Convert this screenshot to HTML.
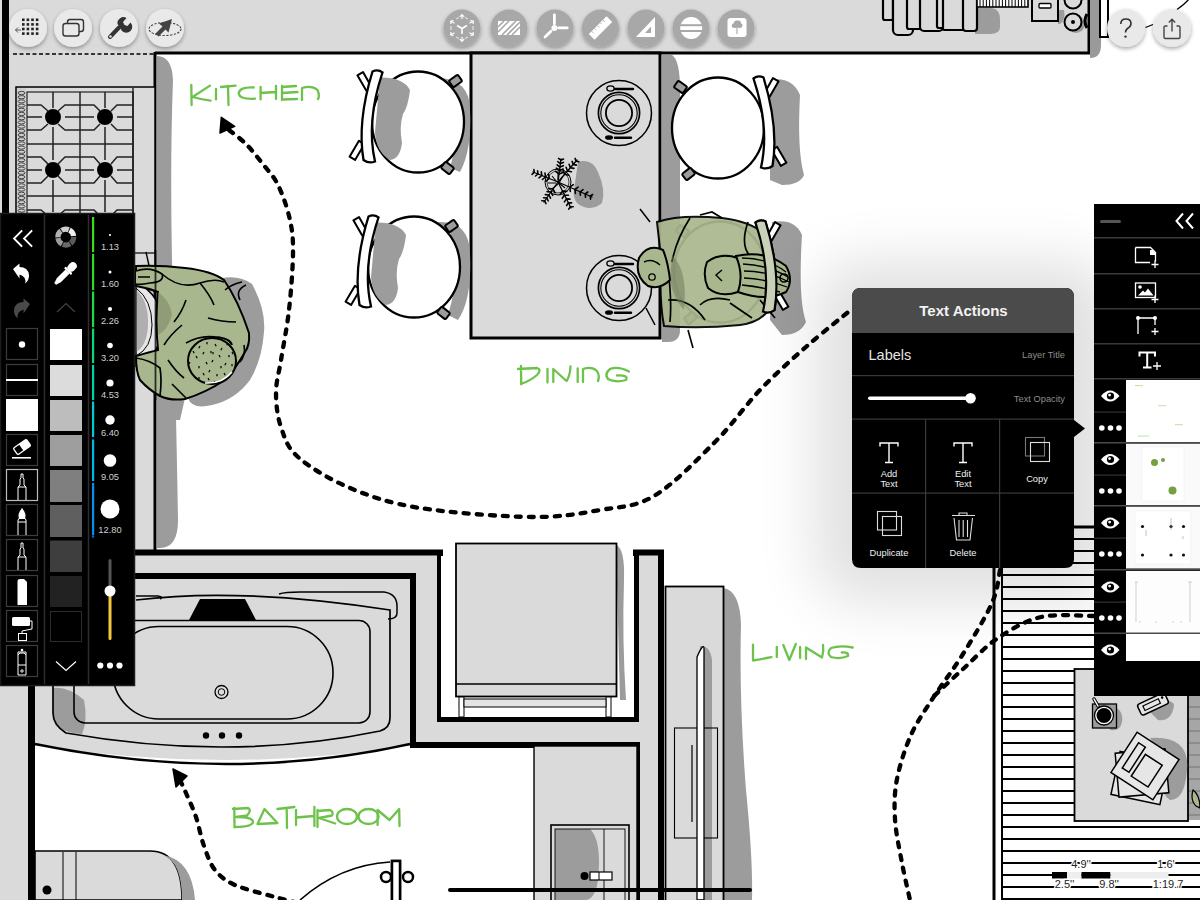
<!DOCTYPE html>
<html><head><meta charset="utf-8">
<style>
html,body{margin:0;padding:0;background:#fff;}
body{width:1200px;height:900px;overflow:hidden;position:relative;font-family:"Liberation Sans",sans-serif;}
svg{position:absolute;left:0;top:0;}
</style></head>
<body>
<svg width="1200" height="900" viewBox="0 0 1200 900" font-family="Liberation Sans, sans-serif">
<defs>
  <radialGradient id="popshadow" cx="0.5" cy="0.5" r="0.5">
    <stop offset="0" stop-color="#000" stop-opacity="0.22"/>
    <stop offset="0.6" stop-color="#000" stop-opacity="0.08"/>
    <stop offset="1" stop-color="#000" stop-opacity="0"/>
  </radialGradient>
  <filter id="btnsh" x="-30%" y="-30%" width="160%" height="170%">
    <feGaussianBlur in="SourceAlpha" stdDeviation="2"/>
    <feOffset dy="2"/>
    <feComponentTransfer><feFuncA type="linear" slope="0.35"/></feComponentTransfer>
    <feMerge><feMergeNode/><feMergeNode in="SourceGraphic"/></feMerge>
  </filter>
  <filter id="bigblur" x="-50%" y="-50%" width="200%" height="200%"><feGaussianBlur stdDeviation="30"/></filter>
  <g id="chair">
    <path d="M-60.6 -46.7 L-55 -49.9 L-46.2 -34.6 L-51.8 -31.4 Z" fill="#fff" stroke="#000" stroke-width="2" stroke-linejoin="round"/>
    <path d="M-68.45 34.67 L-62.95 37.93 L-53.55 22.03 L-59.05 18.77 Z" fill="#fff" stroke="#000" stroke-width="2" stroke-linejoin="round"/>
    <ellipse cx="0" cy="0" rx="46" ry="50.5" fill="#fff" stroke="#000" stroke-width="2.3"/>
    <g transform="translate(37.5 -41) rotate(-35)"><rect x="-5.5" y="-4" width="11" height="8" rx="1.5" fill="#9c9c9c" stroke="#000" stroke-width="2"/></g>
    <g transform="translate(29.5 46) rotate(38)"><rect x="-5.5" y="-4" width="11" height="8" rx="1.5" fill="#9c9c9c" stroke="#000" stroke-width="2"/></g>
  </g>
  <path id="backrest" d="M-45.5 -50.5 Q-61 0 -54.5 38 Q-49 42 -43 39.5 Q-52 0 -35.5 -49.5 Q-40 -53 -45.5 -50.5 Z" fill="#fff" stroke="#000" stroke-width="2.3"/>
  <g id="plate">
    <circle r="32.5" fill="none" stroke="#000" stroke-width="1.5"/>
    <circle r="20.6" fill="none" stroke="#000" stroke-width="1.7"/>
    <circle r="18.2" fill="none" stroke="#000" stroke-width="1.1"/>
    <circle r="13.1" fill="none" stroke="#000" stroke-width="1.8"/>
    <path d="M-4 -24 H14" stroke="#000" stroke-width="2.4" stroke-linecap="round"/>
    <ellipse cx="-8.5" cy="-24.5" rx="3.6" ry="2.6" fill="#dadada" stroke="#000" stroke-width="1.4"/>
    <path d="M-4 24.8 H12" stroke="#000" stroke-width="2.4" stroke-linecap="round"/>
    <ellipse cx="-10" cy="24.5" rx="4" ry="2.3" fill="#000"/>
  </g>
</defs>

<!-- ===== FLOOR PLAN BASE ===== -->
<rect x="0" y="0" width="1200" height="900" fill="#fff"/>
<!-- top gray band -->
<rect x="0" y="0" width="1090" height="53" fill="#dadada"/>
<!-- left kitchen counter gray -->
<rect x="0" y="53" width="155" height="500" fill="#dadada"/>
<rect x="2" y="0" width="7" height="215" fill="#000"/>
<!-- dashed counter edge -->
<line x1="13" y1="54" x2="155" y2="54" stroke="#000" stroke-width="1.6" stroke-dasharray="4,2.5"/>
<!-- wall top & kitchen wall -->
<line x1="155" y1="53" x2="1090" y2="53" stroke="#000" stroke-width="3"/>
<line x1="155" y1="52" x2="155" y2="553" stroke="#000" stroke-width="3"/>
<!-- right edge top band -->
<line x1="1089" y1="0" x2="1089" y2="54" stroke="#000" stroke-width="3"/>
<path d="M1090 0 H1101 V45 Q1101 58 1090 58 Z" fill="#9a9a9a"/>

<!-- shadow strip along kitchen wall -->
<path d="M157 56 Q172 56 173 80 Q170 160 172 260 Q176 400 178 520 Q178 548 160 548 L157 548 Z" fill="#9c9c9c"/>

<!-- stove -->
<rect x="16" y="87" width="139" height="180" fill="#dadada" stroke="#000" stroke-width="1.5"/>
<rect x="27" y="92" width="106" height="175" fill="#dadada" stroke="#222" stroke-width="1.2"/>
<line x1="133" y1="88" x2="133" y2="260" stroke="#000" stroke-width="1.2"/>
<line x1="133" y1="253" x2="155" y2="253" stroke="#000" stroke-width="1.2"/>
<g stroke="#222" stroke-width="1.5" fill="none">
  <line x1="27" y1="144" x2="133" y2="144"/>
  <line x1="27" y1="196" x2="133" y2="196"/>
  <line x1="80" y1="92" x2="80" y2="262"/>
  <path d="M53 92 V108 M53 127 V160 M53 180 V212 M105 92 V108 M105 127 V160 M105 180 V212"/>
  <path d="M27 117 H42 M65 117 H94 M117 117 H133 M27 170 H42 M65 170 H94 M117 170 H133"/>
  <path d="M27 105 H41 L48 111 M58 111 L65 105 H94 L100 111 M111 111 L117 105 H133"/>
  <path d="M27 130 H41 L48 124 M58 124 L65 130 H94 L100 124 M111 124 L117 130 H133"/>
  <path d="M27 157 H41 L48 164 M58 164 L65 157 H94 L100 164 M111 164 L117 157 H133"/>
  <path d="M27 183 H41 L48 176 M58 176 L65 183 H94 L100 176 M111 176 L117 183 H133"/>
  <path d="M27 210 H41 L48 216 M58 216 L65 210 H94 L100 216 M111 216 L117 210 H133"/>
</g>
<circle cx="53" cy="117" r="8" fill="#000"/>
<circle cx="105" cy="117" r="8" fill="#000"/>
<circle cx="53" cy="170" r="8" fill="#000"/>
<circle cx="105" cy="170" r="8" fill="#000"/>
<rect x="17" y="88" width="9" height="130" fill="#cfcfcf"/>
<g fill="none" stroke="#444" stroke-width="1">
  <ellipse cx="21.5" cy="93.0" rx="3.5" ry="1.6"/>
  <ellipse cx="21.5" cy="97.2" rx="3.5" ry="1.6"/>
  <ellipse cx="21.5" cy="101.4" rx="3.5" ry="1.6"/>
  <ellipse cx="21.5" cy="105.6" rx="3.5" ry="1.6"/>
  <ellipse cx="21.5" cy="109.8" rx="3.5" ry="1.6"/>
  <ellipse cx="21.5" cy="114.0" rx="3.5" ry="1.6"/>
  <ellipse cx="21.5" cy="118.2" rx="3.5" ry="1.6"/>
  <ellipse cx="21.5" cy="122.4" rx="3.5" ry="1.6"/>
  <ellipse cx="21.5" cy="126.6" rx="3.5" ry="1.6"/>
  <ellipse cx="21.5" cy="130.8" rx="3.5" ry="1.6"/>
  <ellipse cx="21.5" cy="135.0" rx="3.5" ry="1.6"/>
  <ellipse cx="21.5" cy="139.2" rx="3.5" ry="1.6"/>
  <ellipse cx="21.5" cy="143.4" rx="3.5" ry="1.6"/>
  <ellipse cx="21.5" cy="147.6" rx="3.5" ry="1.6"/>
  <ellipse cx="21.5" cy="151.8" rx="3.5" ry="1.6"/>
  <ellipse cx="21.5" cy="156.0" rx="3.5" ry="1.6"/>
  <ellipse cx="21.5" cy="160.2" rx="3.5" ry="1.6"/>
  <ellipse cx="21.5" cy="164.4" rx="3.5" ry="1.6"/>
  <ellipse cx="21.5" cy="168.6" rx="3.5" ry="1.6"/>
  <ellipse cx="21.5" cy="172.8" rx="3.5" ry="1.6"/>
  <ellipse cx="21.5" cy="177.0" rx="3.5" ry="1.6"/>
  <ellipse cx="21.5" cy="181.2" rx="3.5" ry="1.6"/>
  <ellipse cx="21.5" cy="185.4" rx="3.5" ry="1.6"/>
  <ellipse cx="21.5" cy="189.6" rx="3.5" ry="1.6"/>
  <ellipse cx="21.5" cy="193.8" rx="3.5" ry="1.6"/>
  <ellipse cx="21.5" cy="198.0" rx="3.5" ry="1.6"/>
  <ellipse cx="21.5" cy="202.2" rx="3.5" ry="1.6"/>
  <ellipse cx="21.5" cy="206.4" rx="3.5" ry="1.6"/>
  <ellipse cx="21.5" cy="210.6" rx="3.5" ry="1.6"/>
  <ellipse cx="21.5" cy="214.8" rx="3.5" ry="1.6"/>
</g>

<!-- ===== DINING TABLE ===== -->
<rect x="471" y="53" width="189" height="285" fill="#dadada" stroke="#000" stroke-width="3"/>
<path d="M662 55 H672 Q680 60 680 90 V330 Q680 342 668 342 H662 Z" fill="#9c9c9c"/>


<!-- ===== TOP RIGHT FURNITURE ===== -->
<path d="M975 8 H990 Q1000 8 1000 20 V27 Q1000 34 990 34 H975 Z" fill="#9c9c9c"/>
<g fill="#dadada" stroke="#000" stroke-width="2.2">
  <rect x="883" y="-5" width="10" height="25" rx="2"/>
  <rect x="893" y="-5" width="20" height="40" rx="5"/>
  <rect x="907" y="-5" width="17" height="34" rx="2"/>
  <rect x="920" y="-5" width="23" height="36" rx="4"/>
  <rect x="937" y="-5" width="9" height="33" rx="2"/>
  <rect x="943" y="-5" width="26" height="35" rx="1"/>
  <rect x="963" y="-5" width="14" height="36" rx="3"/>
</g>
<rect x="977" y="-2" width="51" height="9" fill="#fff" stroke="#000" stroke-width="1.6"/>
<g stroke="#000" stroke-width="1">
  <line x1="980.0" y1="0" x2="980.0" y2="7"/>
  <line x1="983.2" y1="0" x2="983.2" y2="7"/>
  <line x1="986.4" y1="0" x2="986.4" y2="7"/>
  <line x1="989.6" y1="0" x2="989.6" y2="7"/>
  <line x1="992.8" y1="0" x2="992.8" y2="7"/>
  <line x1="996.0" y1="0" x2="996.0" y2="7"/>
  <line x1="999.2" y1="0" x2="999.2" y2="7"/>
  <line x1="1002.4" y1="0" x2="1002.4" y2="7"/>
  <line x1="1005.6" y1="0" x2="1005.6" y2="7"/>
  <line x1="1008.8" y1="0" x2="1008.8" y2="7"/>
  <line x1="1012.0" y1="0" x2="1012.0" y2="7"/>
  <line x1="1015.2" y1="0" x2="1015.2" y2="7"/>
  <line x1="1018.4" y1="0" x2="1018.4" y2="7"/>
  <line x1="1021.6" y1="0" x2="1021.6" y2="7"/>
  <line x1="1024.8" y1="0" x2="1024.8" y2="7"/>
</g>
<path d="M1058 10 H1064 Q1066 20 1060 24 H1058 Z" fill="#9c9c9c"/>
<rect x="1032" y="-5" width="26" height="26" fill="#dadada" stroke="#000" stroke-width="2"/>
<rect x="1039" y="3.5" width="12" height="4.5" rx="1" fill="#fff" stroke="#000" stroke-width="1.3"/>
<circle cx="1076" cy="24" r="9" fill="#9c9c9c"/>
<circle cx="1073" cy="22" r="8.5" fill="#dadada" stroke="#000" stroke-width="2"/>
<circle cx="1073" cy="22" r="2" fill="#000"/>
<circle cx="1073" cy="0" r="8.5" fill="#dadada" stroke="#000" stroke-width="2"/>
<rect x="1100" y="-3" width="8" height="40" fill="#fff" stroke="#000" stroke-width="2"/>
<path d="M1087 14 Q1083 21 1087 28" stroke="#000" stroke-width="3" fill="none"/>
<path d="M1145.5 27.5 L1153 24.5 M1177 9.5 Q1185 4 1189 -1" stroke="#000" stroke-width="1.3" fill="none"/>

<!-- ===== CHAIRS ===== -->
<!-- shadows left chairs -->
<path d="M440 78 Q470 80 470 110 Q472 150 460 172 L450 168 Q462 125 452 88 Z" fill="#9c9c9c"/>
<path d="M437 222 Q470 220 470 255 Q472 300 458 320 L448 315 Q462 270 450 232 Z" fill="#9c9c9c"/>
<!-- shadows right chairs -->
<path d="M770 80 Q792 76 800 95 Q797 150 804 175 Q800 185 782 185 L770 180 Z" fill="#9c9c9c"/>
<path d="M772 222 Q795 218 802 235 Q798 300 806 322 Q800 335 782 335 L770 320 Z" fill="#9c9c9c"/>
<g transform="translate(418 122)">
  <use href="#chair"/>
  <path d="M-38 -44.5 Q-15 -45 -8 -32 Q-10 -15 -15 -8 Q-19 5 -16 21 Q-18 37 -28 38 Q-42 30 -43 10 Z" fill="#9c9c9c"/>
  <use href="#backrest"/>
</g>
<g transform="translate(414 267)">
  <use href="#chair"/>
  <path d="M-38 -44.5 Q-15 -45 -8 -32 Q-10 -15 -15 -8 Q-19 5 -16 21 Q-18 37 -28 38 Q-42 30 -43 10 Z" fill="#9c9c9c"/>
  <use href="#backrest"/>
</g>
<g transform="translate(718 128) scale(-1 1)">
  <use href="#chair"/>
  <use href="#backrest"/>
</g>
<g transform="translate(720 272) scale(-1 1)">
  <use href="#chair"/>
  <use href="#backrest"/>
</g>

<!-- ===== TABLE ITEMS ===== -->
<use href="#plate" transform="translate(619 113)"/>
<use href="#plate" transform="translate(619 288)"/>
<path d="M578 162 Q592 158 598 172 Q606 190 602 203 Q594 210 584 207 Q572 203 574 190 Z" fill="#9c9c9c"/>
<circle cx="558" cy="182" r="13" fill="none" stroke="#000" stroke-width="1"/>
<circle cx="558" cy="182" r="11" fill="none" stroke="#000" stroke-width="0.7"/>
<g stroke="#000" stroke-width="1.3" stroke-linecap="round" fill="none">
  <path d="M558.0 182.0 L533.0 172.0"/>
  <path d="M549.2 178.5 L548.7 174.2 M549.2 178.5 L545.9 181.2 M545.5 177.0 L545.0 173.1 M545.5 177.0 L542.4 179.5 M541.8 175.5 L541.3 171.9 M541.8 175.5 L539.0 177.8 M538.0 174.0 L537.6 170.8 M538.0 174.0 L535.5 176.0 M534.2 172.5 L533.9 169.6 M534.2 172.5 L532.0 174.3 " stroke-width="1.6"/>
  <path d="M558.0 182.0 L561.0 159.0"/>
  <path d="M559.0 173.9 L563.0 172.4 M559.0 173.9 L555.6 171.4 M559.5 170.5 L563.2 169.0 M559.5 170.5 L556.3 168.2 M560.0 167.1 L563.3 165.7 M560.0 167.1 L557.1 164.9 M560.4 163.6 L563.4 162.4 M560.4 163.6 L557.8 161.7 M560.9 160.2 L563.5 159.1 M560.9 160.2 L558.5 158.4 " stroke-width="1.6"/>
  <path d="M558.0 182.0 L577.0 160.0"/>
  <path d="M564.6 174.3 L568.8 175.2 M564.6 174.3 L563.2 170.3 M567.5 171.0 L571.4 171.8 M567.5 171.0 L566.1 167.3 M570.4 167.7 L573.9 168.4 M570.4 167.7 L569.1 164.3 M573.2 164.4 L576.4 165.1 M573.2 164.4 L572.1 161.4 M576.0 161.1 L578.9 161.7 M576.0 161.1 L575.1 158.4 " stroke-width="1.6"/>
  <path d="M558.0 182.0 L592.0 197.0"/>
  <path d="M569.9 187.2 L570.3 191.5 M569.9 187.2 L573.3 184.7 M575.0 189.5 L575.4 193.4 M575.0 189.5 L578.1 187.1 M580.1 191.8 L580.4 195.3 M580.1 191.8 L583.0 189.6 M585.2 194.0 L585.5 197.2 M585.2 194.0 L587.8 192.0 M590.3 196.2 L590.6 199.1 M590.3 196.2 L592.6 194.5 " stroke-width="1.6"/>
  <path d="M558.0 182.0 L571.0 208.0"/>
  <path d="M562.5 191.1 L560.1 194.6 M562.5 191.1 L566.8 191.3 M564.5 195.0 L562.3 198.3 M564.5 195.0 L568.4 195.2 M566.5 198.9 L564.4 201.9 M566.5 198.9 L570.0 199.1 M568.4 202.8 L566.6 205.5 M568.4 202.8 L571.6 202.9 M570.4 206.7 L568.7 209.1 M570.4 206.7 L573.2 206.8 " stroke-width="1.6"/>
  <path d="M558.0 182.0 L544.0 202.0"/>
  <path d="M553.1 189.0 L548.8 188.6 M553.1 189.0 L555.0 192.9 M551.0 192.0 L547.1 191.6 M551.0 192.0 L552.7 195.5 M548.9 195.0 L545.3 194.6 M548.9 195.0 L550.5 198.2 M546.8 198.0 L543.6 197.7 M546.8 198.0 L548.2 200.9 M544.7 201.0 L541.8 200.7 M544.7 201.0 L546.0 203.6 " stroke-width="1.6"/>
</g>
<g stroke="#000" stroke-width="1.1" fill="none"><path d="M552 176 l5 6 M563 176 l-4 7 M552 189 l6 -5 M565 188 l-6 -5 M558 172 v8 M548 183 h8"/></g>

<!-- ===== PEOPLE ===== -->
<!-- person 1 shadow -->
<path d="M222 278 Q240 275 252 284 Q266 310 264 332 Q262 360 250 380 Q235 400 212 405 Q192 410 188 398 Q230 375 236 330 Z" fill="#9c9c9c"/>
<path d="M157 395 L185 398 L180 420 L157 420 Z" fill="#9c9c9c"/>
<!-- pan left of person -->
<path d="M136 282 Q162 295 162 325 Q162 355 136 366 Z" fill="#e6e6e6" stroke="#000" stroke-width="1.5"/>
<path d="M136 288 Q152 300 152 325 Q152 348 136 356" fill="none" stroke="#000" stroke-width="1"/>
<path d="M136 290 Q148 300 148 322 Q148 345 136 352 Z" fill="#777" opacity="0.5"/>
<path d="M146 252 L150 270" stroke="#000" stroke-width="1.4"/>
<path d="M136 266 Q160 265 185 268 Q212 271 224 280 Q238 300 249 333 Q250 345 245 352 Q236 368 225 380 Q205 393 185 399 Q170 401 160 396 Q149 390 140 380 Q136 372 136 356 Q150 352 158 350 Q155 320 158 292 Q148 288 136 286 Z" fill="#a9b78e" stroke="#000" stroke-width="2"/>
<path d="M136 358 Q150 360 160 368 Q162 380 160 396" fill="none" stroke="#000" stroke-width="1.7"/>
<path d="M136 271 Q150 266 162 274 Q165 282 150 283 Q140 285 136 284" fill="#a9b78e" stroke="#000" stroke-width="1.6"/>
<path d="M138 277 H150 M162 274 Q180 290 200 283 Q215 278 224 282" fill="none" stroke="#000" stroke-width="1.5"/>
<path d="M158 292 Q170 300 172 315 Q168 330 158 335 Z" fill="#7e8a68" opacity="0.6"/>
<path d="M200 283 Q210 295 214 305 M174 322 Q182 312 186 300 M208 318 Q222 322 236 322 M164 345 Q170 335 182 325 M225 290 Q232 284 242 282 M240 300 Q235 290 246 285 M168 360 Q176 372 184 378 M172 384 Q180 392 186 398 M244 345 Q246 355 240 362" fill="none" stroke="#000" stroke-width="1.6"/>
<path d="M186 343 Q200 335 215 337 Q230 338 232 345" fill="none" stroke="#000" stroke-width="1.8"/>
<path d="M155.5 250 V400" stroke="#000" stroke-width="1.8" opacity="0.75"/>
<ellipse cx="212" cy="361" rx="24" ry="23" fill="#a9b78e" stroke="#000" stroke-width="2"/>
<g stroke="#000" stroke-width="1.2">
  <line x1="200.0" y1="346.0" x2="198.8" y2="348.2"/>
  <line x1="207.0" y1="342.0" x2="207.0" y2="344.2"/>
  <line x1="215.0" y1="344.0" x2="216.2" y2="346.2"/>
  <line x1="222.0" y1="348.0" x2="220.8" y2="350.2"/>
  <line x1="229.0" y1="355.0" x2="229.0" y2="357.2"/>
  <line x1="196.0" y1="356.0" x2="197.2" y2="358.2"/>
  <line x1="204.0" y1="352.0" x2="202.8" y2="354.2"/>
  <line x1="211.0" y1="351.0" x2="211.0" y2="353.2"/>
  <line x1="219.0" y1="355.0" x2="220.2" y2="357.2"/>
  <line x1="226.0" y1="363.0" x2="224.8" y2="365.2"/>
  <line x1="199.0" y1="366.0" x2="199.0" y2="368.2"/>
  <line x1="206.0" y1="362.0" x2="207.2" y2="364.2"/>
  <line x1="213.0" y1="360.0" x2="211.8" y2="362.2"/>
  <line x1="221.0" y1="366.0" x2="221.0" y2="368.2"/>
  <line x1="203.0" y1="373.0" x2="204.2" y2="375.2"/>
  <line x1="210.0" y1="370.0" x2="208.8" y2="372.2"/>
  <line x1="217.0" y1="374.0" x2="217.0" y2="376.2"/>
  <line x1="193.0" y1="351.0" x2="194.2" y2="353.2"/>
  <line x1="228.0" y1="343.0" x2="226.8" y2="345.2"/>
  <line x1="232.0" y1="364.0" x2="232.0" y2="366.2"/>
  <line x1="208.0" y1="378.0" x2="209.2" y2="380.2"/>
  <line x1="215.0" y1="381.0" x2="213.8" y2="383.2"/>
  <line x1="199.0" y1="377.0" x2="199.0" y2="379.2"/>
  <line x1="224.0" y1="373.0" x2="225.2" y2="375.2"/>
  <line x1="190.0" y1="362.0" x2="188.8" y2="364.2"/>
  <line x1="213.0" y1="352.0" x2="213.0" y2="354.2"/>
  <line x1="232.0" y1="352.0" x2="233.2" y2="354.2"/>
</g>
<path d="M205 383 Q222 384 232 372" fill="none" stroke="#fff" stroke-width="1.5"/>

<!-- person 2 -->
<g opacity="0.93">
<path d="M657 222 Q680 214 722 218 Q755 222 768 238 Q780 268 774 300 Q766 322 740 325 Q700 329 664 326 Q659 300 661 258 Z" fill="#a9b78e" stroke="#000" stroke-width="2"/>
</g>
<path d="M700 215 L712 212 L722 218 M690 218 Q676 240 672 262 M748 222 Q740 245 750 256 M668 300 Q690 298 705 320 M700 305 Q710 295 730 300 M730 303 L752 318 M760 300 L775 318 M668 270 Q672 300 670 322" fill="none" stroke="#000" stroke-width="1.7"/>
<path d="M672 255 Q688 270 684 310 Q674 300 670 280 Z" fill="#6f7a5c" opacity="0.55"/>
<path d="M663 250 Q648 243 639 258 Q634 276 648 286 Q660 290 670 280 Q668 262 663 250 Z" fill="#a9b78e" stroke="#000" stroke-width="2"/>
<path d="M644 262 Q652 258 660 265" fill="none" stroke="#000" stroke-width="1.4"/>
<circle cx="652" cy="277" r="3.2" fill="none" stroke="#000" stroke-width="1.3"/>
<path d="M707 262 Q720 252 738 258 Q746 275 738 292 Q720 298 708 288 Q702 275 707 262 Z" fill="#a9b78e" stroke="#000" stroke-width="2"/>
<path d="M722 270 L716 275 L722 281" fill="none" stroke="#000" stroke-width="1.4"/>
<path d="M736 256 Q766 250 786 266 Q794 280 786 292 Q766 302 738 292 Q744 275 736 256 Z" fill="#a9b78e" stroke="#000" stroke-width="2"/>
<g stroke="#000" stroke-width="1.3" fill="none">
  <path d="M742 258 Q768 258 786 272 M743 264 Q768 265 788 277 M744 271 Q768 271 789 282 M744 278 Q766 279 787 287 M742 285 Q762 287 780 292"/>
</g>
<g transform="translate(720 272) scale(-1 1)"><path d="M-45.5 -50.5 Q-61 0 -54.5 38 Q-49 42 -43 39.5 Q-52 0 -35.5 -49.5 Q-40 -53 -45.5 -50.5 Z" fill="#c9d2b9" stroke="#000" stroke-width="2.1"/></g>
<circle cx="784" cy="278" r="4" fill="none" stroke="#000" stroke-width="1.6"/>
<path d="M640 209 L650 222 M646 308 L655 325" stroke="#000" stroke-width="1.5"/>
<path d="M688 330 L693 348" stroke="#000" stroke-width="1.6"/>

<!-- ===== WALLS BOTTOM ===== -->
<rect x="135" y="553" width="305" height="23" fill="#dadada"/>
<rect x="35" y="576" width="403" height="170" fill="#dadada"/>
<rect x="413" y="576" width="25" height="170" fill="#dadada"/>
<rect x="438" y="719" width="223" height="27" fill="#dadada"/>
<rect x="636" y="553" width="25" height="347" fill="#dadada"/>
<rect x="0" y="686" width="28" height="214" fill="#dadada"/>


<!-- ===== BATHTUB ===== -->
<path d="M35 588 Q225 570 413 590 V745 Q225 775 35 745 Z" fill="#dadada"/>
<path d="M35 744 Q230 784 410 744" fill="none" stroke="#000" stroke-width="2.5"/>
<path d="M53 688 Q68 686 84 700 Q88 720 82 734 Q66 733 56 726 Q53 720 53 713 Z" fill="#9c9c9c"/>
<path d="M136 596 H158 Q164 597 160 599" fill="none" stroke="#000" stroke-width="1.4"/>
<path d="M279 594 Q285 592 300 592 H384 Q397 594 397 606 V613 Q397 619 388 619" fill="none" stroke="#000" stroke-width="1.5"/>
<path d="M136 600 Q240 587 390 610 V718 Q390 728 380 731 Q230 762 66 733 Q53 725 53 713 V640" fill="none" stroke="#000" stroke-width="1.7"/>
<rect x="74" y="620.5" width="296" height="102.5" rx="11" fill="none" stroke="#000" stroke-width="1.6"/>
<rect x="113" y="626.5" width="220" height="92.5" rx="46" fill="none" stroke="#000" stroke-width="1.6"/>
<path d="M189 620 L200 599 H245 L256 620 Z" fill="#000"/>
<circle cx="221.5" cy="692" r="6.5" fill="#ddd" stroke="#000" stroke-width="1.3"/>
<circle cx="221.5" cy="692" r="3.3" fill="none" stroke="#000" stroke-width="1"/>
<circle cx="206" cy="735.5" r="3.2" fill="#000"/>
<circle cx="222" cy="735.5" r="3.2" fill="#000"/>
<circle cx="239" cy="735.5" r="3.2" fill="#000"/>
<g stroke="#000" stroke-linecap="round" fill="none">
  <path d="M135 552.5 H440 V719 H636 V552.5 H661 V900" stroke-width="6"/>
  <path d="M135 576 H413 V745 H637 V900" stroke-width="6"/>
</g>
<rect x="28" y="686" width="7" height="214" fill="#000"/>
<!-- ===== WASHER U ===== -->
<rect x="441" y="556" width="193" height="161" fill="#fff"/>
<path d="M616 545 Q625 548 624 580 Q622 640 626 700 L620 700 Z" fill="#9c9c9c"/>
<rect x="456" y="543.5" width="160.5" height="153" fill="#dadada" stroke="#000" stroke-width="1.8"/>
<line x1="456" y1="684" x2="616.5" y2="684" stroke="#000" stroke-width="1.4"/>
<rect x="459" y="697" width="5" height="20" fill="#fff" stroke="#000" stroke-width="1"/>
<rect x="606" y="697" width="5" height="20" fill="#fff" stroke="#000" stroke-width="1"/>
<rect x="464" y="699" width="142" height="8" fill="#e4e4e4" stroke="#000" stroke-width="1"/>
<!-- fridge -->
<path d="M723 588 Q740 590 741 625 Q739 700 746 790 Q753 860 752 900 H723 Z" fill="#9c9c9c"/>
<rect x="665.5" y="586.5" width="58" height="330" fill="#dadada" stroke="#000" stroke-width="1.8"/>
<path d="M700 646 Q710 645 712 660 V900 H700 Z" fill="#9c9c9c"/>
<rect x="674.5" y="728" width="43" height="110" fill="none" stroke="#000" stroke-width="1.1"/>
<path d="M697 657 Q703 643 704 648 V900 H697 Z" fill="#fff" stroke="#000" stroke-width="1.3"/>
<rect x="674.5" y="728" width="22" height="110" fill="#dadada" fill-opacity="0" stroke="none"/>
<line x1="692" y1="745" x2="692" y2="822" stroke="#000" stroke-width="1.2"/>
<!-- lower cabinet -->
<rect x="534" y="746" width="103" height="160" fill="#dadada" stroke="#000" stroke-width="1.4"/>
<rect x="551" y="825" width="78" height="80" fill="#dadada" stroke="#000" stroke-width="1.6"/>
<path d="M555 829 H590 Q602 840 598 880 Q595 900 585 900 H555 Z" fill="#9c9c9c"/>
<rect x="555" y="829" width="70" height="75" fill="none" stroke="#000" stroke-width="0.9"/>
<line x1="604" y1="829" x2="604" y2="900" stroke="#000" stroke-width="0.9"/>
<circle cx="584.5" cy="876" r="4" fill="#000"/>
<rect x="590" y="872" width="22" height="8" fill="#fff" stroke="#000" stroke-width="1.2"/>
<line x1="599" y1="872" x2="599" y2="880" stroke="#000" stroke-width="1"/>
<line x1="450" y1="890" x2="750" y2="890" stroke="#000" stroke-width="4" stroke-linecap="round"/>

<!-- toilet & door -->
<path d="M35 851 H150 Q182 851 182 900 H35 Z" fill="#dadada" stroke="#000" stroke-width="1.6"/>
<path d="M163 855 Q192 860 195 900 H182 Q182 862 163 855 Z" fill="#9c9c9c"/>
<line x1="63" y1="852" x2="63" y2="900" stroke="#000" stroke-width="1"/>
<line x1="76" y1="852" x2="76" y2="900" stroke="#000" stroke-width="1"/>
<circle cx="47" cy="890" r="4.5" fill="#000"/>
<path d="M300 900 Q340 865 390 862" fill="none" stroke="#000" stroke-width="1.6"/>
<rect x="392" y="861" width="8" height="45" fill="#fff" stroke="#000" stroke-width="2.5"/>
<circle cx="386" cy="877" r="5" fill="#fff" stroke="#000" stroke-width="2.5"/>
<circle cx="408" cy="877" r="5" fill="#fff" stroke="#000" stroke-width="2.5"/>
<rect x="392" y="861" width="8" height="45" fill="#fff" stroke="#000" stroke-width="2.5"/>

<!-- ===== RIGHT: FLOORBOARDS / RUG ===== -->
<line x1="994" y1="527" x2="994" y2="900" stroke="#000" stroke-width="3"/>
<line x1="1002" y1="527" x2="1002" y2="900" stroke="#000" stroke-width="2"/>
<line x1="993" y1="527" x2="1200" y2="527" stroke="#000" stroke-width="3"/>
<g stroke="#000" stroke-width="1.8">
  <line x1="1002" y1="539" x2="1200" y2="539"/>
  <line x1="1002" y1="551" x2="1200" y2="551"/>
  <line x1="1002" y1="563" x2="1200" y2="563"/>
  <line x1="1002" y1="575" x2="1200" y2="575"/>
  <line x1="1002" y1="587" x2="1200" y2="587"/>
  <line x1="1002" y1="599" x2="1200" y2="599"/>
  <line x1="1002" y1="611" x2="1200" y2="611"/>
  <line x1="1002" y1="623" x2="1200" y2="623"/>
  <line x1="1002" y1="635" x2="1200" y2="635"/>
  <line x1="1002" y1="647" x2="1200" y2="647"/>
  <line x1="1002" y1="659" x2="1200" y2="659"/>
  <line x1="1002" y1="671" x2="1200" y2="671"/>
  <line x1="1002" y1="683" x2="1200" y2="683"/>
  <line x1="1002" y1="695" x2="1200" y2="695"/>
  <line x1="1002" y1="707" x2="1200" y2="707"/>
  <line x1="1002" y1="719" x2="1200" y2="719"/>
  <line x1="1002" y1="731" x2="1200" y2="731"/>
  <line x1="1002" y1="743" x2="1200" y2="743"/>
  <line x1="1002" y1="755" x2="1200" y2="755"/>
  <line x1="1002" y1="767" x2="1200" y2="767"/>
  <line x1="1002" y1="779" x2="1200" y2="779"/>
  <line x1="1002" y1="791" x2="1200" y2="791"/>
  <line x1="1002" y1="803" x2="1200" y2="803"/>
  <line x1="1002" y1="815" x2="1200" y2="815"/>
  <line x1="1002" y1="827" x2="1200" y2="827"/>
  <line x1="1002" y1="839" x2="1200" y2="839"/>
  <line x1="1002" y1="851" x2="1200" y2="851"/>
  <line x1="1002" y1="863" x2="1200" y2="863"/>
  <line x1="1002" y1="875" x2="1200" y2="875"/>
  <line x1="1002" y1="887" x2="1200" y2="887"/>
  <line x1="1002" y1="899" x2="1200" y2="899"/>
</g>
<rect x="1188" y="680" width="12" height="140" fill="#9c9c9c" opacity="0.9"/>
<rect x="1074.5" y="669" width="113.5" height="152" fill="#dadada" stroke="#000" stroke-width="1.8"/>
<path d="M1110 706 Q1124 708 1122 722 Q1120 732 1110 730 Z" fill="#9c9c9c"/>
<rect x="1092.5" y="704" width="24" height="24" fill="#9c9c9c" stroke="#000" stroke-width="1.3"/>
<circle cx="1104" cy="715.5" r="9.5" fill="#fff" stroke="#000" stroke-width="1.3"/>
<circle cx="1104" cy="715.5" r="7.5" fill="#000"/>
<path d="M1098 706 L1094 699" stroke="#000" stroke-width="3.5" stroke-linecap="round"/>
<path d="M1098 706 L1094 699" stroke="#fff" stroke-width="1.5" stroke-linecap="round"/>
<path d="M1150 712 Q1170 695 1174 705 Q1172 722 1158 720 Z" fill="#9c9c9c"/>
<g transform="translate(1153 704) rotate(-25)">
  <rect x="-15" y="-6" width="30" height="12" rx="2.5" fill="#e6e6e6" stroke="#000" stroke-width="1.5"/>
  <rect x="-10" y="-2.5" width="17" height="5" fill="none" stroke="#000" stroke-width="1.2"/>
  <circle cx="11" cy="-2" r="1.3" fill="#000"/>
</g>
<path d="M1150 738 Q1190 735 1187 770 Q1185 800 1170 800 Q1155 790 1165 760 Z" fill="#9c9c9c"/>
<g stroke="#000" stroke-width="1.5" fill="#e6e6e6">
  <g transform="translate(1140 778) rotate(12)"><rect x="-25" y="-22" width="50" height="44"/></g>
  <g transform="translate(1142 773) rotate(-5)"><rect x="-25" y="-22" width="50" height="44"/></g>
  <g transform="translate(1145 766) rotate(33)"><rect x="-25" y="-24" width="50" height="48"/>
    <rect x="-18" y="-16" width="8" height="30" fill="none"/>
    <rect x="-6" y="-10" width="20" height="26" fill="none"/>
  </g>
</g>
<path d="M1193 790 Q1200 795 1200 808 L1196 806 Q1190 800 1193 790 Z" fill="#a9b78e" stroke="#000" stroke-width="1.2"/>

<!-- scale bar -->
<rect x="1052" y="872" width="15" height="6.5" fill="#000"/>
<rect x="1067" y="872" width="14.5" height="6.5" fill="#eee"/>
<rect x="1081.5" y="872" width="29" height="6.5" fill="#000"/>
<rect x="1110.5" y="872" width="58" height="6.5" fill="#eee"/>
<g font-size="11" text-anchor="middle" fill="#222" stroke="#fff" stroke-width="2.5" paint-order="stroke" font-family="Liberation Sans, sans-serif">
  <text x="1081" y="868">4.9''</text>
  <text x="1166" y="868">1.6'</text>
  <text x="1064.5" y="888">2.5''</text>
  <text x="1109" y="888">9.8''</text>
  <text x="1168" y="888">1:19.7</text>
</g>

<!-- ===== LABELS ===== -->
<g fill="none" stroke="#6cc24a" stroke-width="2.3" stroke-linecap="round" stroke-linejoin="round">
  <!-- KITCHEN -->
  <path d="M191.3 85 L191.6 105 M210 85.6 L192.5 97 Q200 99 210.6 100.6"/>
  <path d="M216 89 V99.4"/>
  <path d="M221 87 L235.6 85.6 M228 86 L228.5 105"/>
  <path d="M253.7 87.5 Q239 87 238.7 93.7 Q240 99.5 255 98.7"/>
  <path d="M260.6 87 V99.4 M276 86 V99 M260.5 93 L276 92"/>
  <path d="M282 86 V100 M282 87 L296 86 M282 93 L297.5 92 M282 99.5 L297 99"/>
  <path d="M302 100 V88 Q312 85 317.5 90 Q320 96 318 99"/>
  <!-- DINING -->
  <path d="M521 366 L521.2 384.3 M518 369 L537 368 Q542 370 537 375 Q530 381 521 384"/>
  <path d="M547.5 369 V382.6"/>
  <path d="M553.3 382 V369 L566.5 381 Q570 376 570.5 366.5"/>
  <path d="M577.7 368.5 V382"/>
  <path d="M583 382 V369 Q592 366 597 371 Q600 376 598 381"/>
  <path d="M629 371.5 Q618 366 610 369 Q604 374 608 379 Q615 383 626 380 Q629 375 617 375.5"/>
  <!-- LIVING -->
  <path d="M753 644.7 V660.5 Q762 659 771.4 657.2"/>
  <path d="M776.8 647 V657"/>
  <path d="M783.3 645 L789.3 660 L795.8 644"/>
  <path d="M800.1 647 V658"/>
  <path d="M806 659 V647.5 L822 657.5 Q824 651 823 645"/>
  <path d="M852.7 647.5 Q840 645 831 648 Q826 653 831 657 Q840 659.5 848 656 Q849 652 841.8 652.5"/>
  <!-- BATHROOM -->
  <path d="M234.3 808 L234.5 827.4 M233 809 L248 808 Q252 810 247 815.5 L236 817 Q253 817 253 822 Q252 827 235 827"/>
  <path d="M264.5 809 L257.5 824 L277.4 823 Z"/>
  <path d="M277.4 809 L294.4 807 M286.7 808 L287 828"/>
  <path d="M296 810 V825 M314.4 807 V826 M296 817.5 L314 816"/>
  <path d="M317.5 810 V827 M317.5 811 L330 810 Q334 812 332 815.5 L319 818 L335.2 823.5"/>
  <ellipse cx="347" cy="816.5" rx="10" ry="7.5"/>
  <ellipse cx="368.5" cy="816.5" rx="10" ry="7.5"/>
  <path d="M377.6 825 V810 L389.5 820 L399.2 809 L399.5 826"/>
</g>

<!-- ===== DASHED PATHS ===== -->
<g fill="none" stroke="#000" stroke-width="4.3" stroke-dasharray="5,8" stroke-linecap="round">
  <path d="M229.0 130.0 C231.8 132.3 240.5 138.5 246.0 144.0 C251.5 149.5 256.7 156.2 262.0 163.0 C267.3 169.8 273.3 175.5 278.0 185.0 C282.7 194.5 287.5 208.5 290.0 220.0 C292.5 231.5 293.2 239.0 293.0 254.0 C292.8 269.0 291.0 292.3 289.0 310.0 C287.0 327.7 283.2 346.2 281.0 360.0 C278.8 373.8 276.0 381.8 276.0 393.0 C276.0 404.2 277.3 416.3 281.0 427.0 C284.7 437.7 286.5 446.8 298.0 457.0 C309.5 467.2 329.7 479.5 350.0 488.0 C370.3 496.5 389.7 503.2 420.0 508.0 C450.3 512.8 502.0 516.7 532.0 517.0 C562.0 517.3 579.7 513.5 600.0 510.0 C620.3 506.5 634.8 507.3 654.0 496.0 C673.2 484.7 697.3 459.7 715.0 442.0 C732.7 424.3 744.7 406.0 760.0 390.0 C775.3 374.0 791.7 359.5 807.0 346.0 C822.3 332.5 844.5 315.2 852.0 309.0"/>
  <path d="M180.0 780.0 C181.0 782.2 183.3 786.8 186.0 793.0 C188.7 799.2 193.0 808.2 196.0 817.0 C199.0 825.8 200.8 837.2 204.0 846.0 C207.2 854.8 209.8 863.5 215.0 870.0 C220.2 876.5 225.0 880.5 235.0 885.0 C245.0 889.5 262.5 893.5 275.0 897.0 C287.5 900.5 304.2 904.5 310.0 906.0"/>
  <path d="M1000.0 570.0 C998.7 575.5 998.2 589.0 992.0 603.0 C985.8 617.0 972.8 638.2 963.0 654.0 C953.2 669.8 941.7 684.5 933.0 698.0 C924.3 711.5 917.0 721.5 911.0 735.0 C905.0 748.5 899.7 765.0 897.0 779.0 C894.3 793.0 894.2 805.0 895.0 819.0 C895.8 833.0 899.5 849.5 902.0 863.0 C904.5 876.5 908.7 893.8 910.0 900.0"/>
  <path d="M1094.0 616.0 C1085.2 616.2 1057.0 613.3 1041.0 617.0 C1025.0 620.7 1011.0 629.3 998.0 638.0 C985.0 646.7 973.8 659.2 963.0 669.0 C952.2 678.8 938.0 692.3 933.0 697.0"/>
</g>
<path d="M221.3 117.3 L234.7 126.3 L220 133 Z" fill="#000" stroke="#000" stroke-width="1.5" stroke-linejoin="round"/>
<path d="M173 769 L187 776 L176 787 Z" fill="#000" stroke="#000" stroke-width="1.5" stroke-linejoin="round"/>

<!-- ===== POPOVER SHADOW ===== -->
<rect x="815" y="262" width="300" height="340" rx="40" fill="#000" opacity="0.12" filter="url(#bigblur)"/>

<!-- ===== TOP LEFT BUTTONS ===== -->
<g filter="url(#btnsh)">
  <circle cx="28" cy="28" r="19" fill="#e9e9e9"/>
  <circle cx="73" cy="28" r="19" fill="#e9e9e9"/>
  <circle cx="119" cy="28" r="19" fill="#e9e9e9"/>
  <circle cx="165" cy="28" r="19" fill="#e9e9e9"/>
  <circle cx="1126" cy="28" r="19" fill="#e9e9e9"/>
  <circle cx="1172" cy="28" r="19" fill="#e9e9e9"/>
</g>
<!-- grid icon -->
<g fill="#222">
  <rect x="22.0" y="18.5" width="2.6" height="2.6"/>
  <rect x="22.0" y="23.1" width="2.6" height="2.6"/>
  <rect x="22.0" y="27.7" width="2.6" height="2.6"/>
  <rect x="22.0" y="32.3" width="2.6" height="2.6"/>
  <rect x="26.6" y="18.5" width="2.6" height="2.6"/>
  <rect x="26.6" y="23.1" width="2.6" height="2.6"/>
  <rect x="26.6" y="27.7" width="2.6" height="2.6"/>
  <rect x="26.6" y="32.3" width="2.6" height="2.6"/>
  <rect x="31.2" y="18.5" width="2.6" height="2.6"/>
  <rect x="31.2" y="23.1" width="2.6" height="2.6"/>
  <rect x="31.2" y="27.7" width="2.6" height="2.6"/>
  <rect x="31.2" y="32.3" width="2.6" height="2.6"/>
  <rect x="35.8" y="18.5" width="2.6" height="2.6"/>
  <rect x="35.8" y="23.1" width="2.6" height="2.6"/>
  <rect x="35.8" y="27.7" width="2.6" height="2.6"/>
  <rect x="35.8" y="32.3" width="2.6" height="2.6"/>
</g>
<path d="M21 30 H15.5 M18 27.5 L15.5 30 L18 32.5" stroke="#555" stroke-width="1" fill="none"/>
<!-- layers icon -->
<g fill="#e9e9e9" stroke="#333" stroke-width="1.4">
  <rect x="67.5" y="19.5" width="16" height="12" rx="2.5"/>
  <rect x="63" y="23.5" width="16" height="12.5" rx="2.5"/>
</g>
<!-- wrench -->
<path d="M110 37 L119 27.5" stroke="#333" stroke-width="4" stroke-linecap="round"/>
<path d="M117.5 24 A6 6 0 0 1 126.5 18 L123 22 L124.5 25 L127.5 26 L130.5 22.5 A6 6 0 0 1 122 31 Z" fill="#333"/>
<circle cx="110.5" cy="36.5" r="1.2" fill="#e9e9e9"/>
<!-- select icon -->
<ellipse cx="165" cy="29" rx="16" ry="6.5" fill="none" stroke="#444" stroke-width="1.1" stroke-dasharray="2.2,1.5"/>
<path d="M172 19 L159 23.5 L162.5 26.5 L155.5 33.5 L158.5 36.5 L165.5 29.5 L168.5 32.5 Z" fill="#444"/>
<!-- help -->
<path d="M1120.8 24 Q1120.8 19 1125.8 19 Q1131 19 1131 23.5 Q1131 26.5 1127.5 28.5 Q1125.5 30 1125.5 32.5" fill="none" stroke="#333" stroke-width="1.6"/><circle cx="1125.5" cy="36.6" r="1.2" fill="#333"/>
<!-- share -->
<g fill="none" stroke="#444" stroke-width="1.4">
  <path d="M1167.5 26 H1165.5 Q1164 26 1164 27.5 V37 Q1164 38.5 1165.5 38.5 H1178.5 Q1180 38.5 1180 37 V27.5 Q1180 26 1178.5 26 H1176.5"/>
  <path d="M1172 31.5 V19.5 M1168.8 22.5 L1172 19.3 L1175.2 22.5"/>
</g>

<!-- ===== TOP CENTER TOOLBAR ===== -->
<g filter="url(#btnsh)">
  <circle cx="462" cy="28" r="18.5" fill="#a8a8a8"/>
  <circle cx="509" cy="28" r="18.5" fill="#a8a8a8"/>
  <circle cx="555" cy="28" r="18.5" fill="#a8a8a8"/>
  <circle cx="600.5" cy="28" r="18.5" fill="#a8a8a8"/>
  <circle cx="646" cy="28" r="18.5" fill="#a8a8a8"/>
  <circle cx="691" cy="28" r="18.5" fill="#a8a8a8"/>
  <circle cx="736" cy="28" r="18.5" fill="#a8a8a8"/>
</g>
<g stroke="#fff" fill="none" stroke-width="1.3">
  <!-- 3d cube -->
  <path d="M462 28.5 V34 M462 28.5 L457 25.5 M462 28.5 L467 25.5" stroke-width="1.6"/>
  <path d="M462 14.5 V19 M459.8 16.8 L462 14.5 L464.2 16.8 M462 37 V41.5 M459.8 39.2 L462 41.5 L464.2 39.2" stroke-width="1.2"/>
  <path d="M450.5 21 L454.5 23.3 M450.5 21 L451 24 M450.5 21 L453.5 20.6 M473.5 21 L469.5 23.3 M473.5 21 L473 24 M473.5 21 L470.5 20.6" stroke-width="1.2"/>
  <path d="M450.5 35 L454.5 32.7 M450.5 35 L451 32 M450.5 35 L453.5 35.4 M473.5 35 L469.5 32.7 M473.5 35 L473 32 M473.5 35 L470.5 35.4" stroke-width="1.2"/>
  <path d="M456 19 L459 17.5 M465 17.5 L468 19 M451 26 V30 M473 26 V30 M456 37 L459 38.5 M465 38.5 L468 37" stroke-width="1" opacity="0.8"/>
  <!-- ruler -->
</g>
<!-- hatch box -->
<rect x="498" y="21" width="22" height="14" fill="#fff"/>
<g stroke="#a8a8a8" stroke-width="1.6">
  <path d="M498 32 L509 21 M502 35 L516 21 M507 35 L520 22 M512 35 L520 27 M498 27 L504 21"/>
</g>
<!-- tripod axes -->
<g stroke="#fff" stroke-width="2.8" stroke-linecap="round">
  <path d="M554.4 15 V23.8 M558.5 27.8 H567.2 M550.9 31.3 L545 37"/>
</g>
<circle cx="554.4" cy="28" r="3" fill="#fff"/>
<!-- ruler -->
<g transform="rotate(-45 600.5 28)">
  <rect x="588" y="24" width="25" height="8" fill="#fff"/>
  <path d="M592 24 V27 M596 24 V26 M600 24 V27 M604 24 V26 M608 24 V27" stroke="#a8a8a8" stroke-width="0.8"/>
</g>
<!-- set square -->
<path d="M636 37 L655 17 V37 Z M645 33 L651 26.5 V33 Z" fill="#fff" fill-rule="evenodd"/>
<!-- circle minus -->
<circle cx="691.2" cy="28" r="11" fill="#fff"/>
<rect x="679" y="24.2" width="24" height="2" fill="#a8a8a8"/>
<rect x="679" y="30" width="24" height="2" fill="#a8a8a8"/>
<!-- tree tile -->
<rect x="727.5" y="18" width="19" height="19" rx="3" fill="#fff"/>
<path d="M737 34 V27" stroke="#a8a8a8" stroke-width="1.1"/>
<path d="M732 27 Q731 24 734 23 Q734 20 737.5 20.5 Q741 20 741 23.5 Q743.5 24 742 27 Q740 28.5 737 27.5 Q734 28.5 732 27 Z" fill="#a8a8a8"/>

<!-- ===== LEFT TOOL PANEL ===== -->
<rect x="0" y="213" width="135" height="473" fill="#000"/>
<rect x="0.5" y="213.5" width="134" height="472" fill="none" stroke="#1c1c1c" stroke-width="1.5"/>
<line x1="44.5" y1="215" x2="44.5" y2="684" stroke="#2e2e2e" stroke-width="1.5"/>
<line x1="88.5" y1="215" x2="88.5" y2="684" stroke="#2e2e2e" stroke-width="1.5"/>
<!-- col1 -->
<g stroke="#fff" stroke-width="1.8" fill="none" stroke-linecap="square">
  <path d="M21.5 231 L14 238.5 L21.5 246 M31.5 231 L24 238.5 L31.5 246"/>
</g>
<path d="M13 269 L19.5 263.5 V267 Q28 267 29 275 Q29.5 280 25 283.5 Q27 277 19.5 274.5 V278.5 Z" fill="#fff"/>
<path d="M30 304 L23.5 298.5 V302 Q15 302 14 310 Q13.5 315 18 318.5 Q16 312 23.5 309.5 V313.5 Z" fill="#4a4a4a"/>
<g fill="none" stroke="#3c3c3c" stroke-width="1.2">
  <rect x="6.5" y="328.5" width="31" height="31"/>
  <rect x="6.5" y="364.5" width="31" height="31"/>
  <rect x="6.5" y="434.5" width="31" height="31"/>
  <rect x="6.5" y="504.5" width="31" height="31"/>
  <rect x="6.5" y="539.5" width="31" height="31"/>
  <rect x="6.5" y="575.5" width="31" height="31"/>
  <rect x="6.5" y="610.5" width="31" height="31"/>
  <rect x="6.5" y="645.5" width="31" height="31"/>
</g>
<rect x="6.5" y="469.5" width="31" height="31" fill="none" stroke="#bbb" stroke-width="1.2"/>
<circle cx="22" cy="344.5" r="3.2" fill="#fff"/>
<rect x="6" y="379" width="32" height="2" fill="#fff"/>
<rect x="6" y="399" width="32" height="32" fill="#fff"/>
<!-- eraser -->
<g transform="rotate(-35 22 447)">
  <rect x="14" y="443" width="16" height="8" rx="1.5" fill="#000" stroke="#fff" stroke-width="1.3"/>
  <rect x="21" y="443" width="9" height="8" fill="#fff"/>
</g>
<rect x="12" y="457" width="19" height="1.6" fill="#fff"/>
<!-- pens -->
<g fill="none" stroke="#fff" stroke-width="1">
  <path d="M21 474 H23 V478 L24 479 V485 L26 487 V500 M21 474 V478 L20 479 V485 L18 487 V500 M18 487 H26"/>
  <path d="M18 520 L19.5 518 H24.5 L26 520 V535 M18 520 V535 M18 522 H26"/>
  <path d="M21 543 H23 V548 L24 549 V555 L26 557 V570 M21 543 V548 L20 549 V555 L18 557 V570 M18 557 H26"/>
  <path d="M18 652 H26 V675 H18 Z M18 665 H26 M18 655 L20 653 H24 L26 655"/>
  <circle cx="22" cy="671" r="1.2"/>
</g>
<path d="M22 508 Q27 514 25 519 H19 Q17 514 22 508 Z" fill="#fff"/>
<circle cx="22" cy="650" r="1.3" fill="#fff"/>
<path d="M17.5 581 Q17.5 579 20 579 H24 L27 582 V605 H17.5 Z" fill="#fff"/>
<!-- roller -->
<rect x="12" y="617" width="18" height="9" rx="1.5" fill="#fff"/>
<path d="M30 621 H32 V629 L22 631 V634" fill="none" stroke="#fff" stroke-width="1"/>
<rect x="18.5" y="633.5" width="8" height="7" fill="none" stroke="#fff" stroke-width="1"/>

<!-- col2 -->
<path d="M61.61 230.40 A7.9 7.9 0 0 1 68.76 229.78" fill="none" stroke="#cfcfcf" stroke-width="5.2"/>
<path d="M69.51 230.12 A7.9 7.9 0 0 1 73.62 236.00" fill="none" stroke="#f0f0f0" stroke-width="5.2"/>
<path d="M73.70 236.82 A7.9 7.9 0 0 1 70.66 243.33" fill="none" stroke="#5a5a5a" stroke-width="5.2"/>
<path d="M69.99 243.80 A7.9 7.9 0 0 1 62.84 244.42" fill="none" stroke="#6a6a6a" stroke-width="5.2"/>
<path d="M62.09 244.08 A7.9 7.9 0 0 1 57.98 238.20" fill="none" stroke="#9a9a9a" stroke-width="5.2"/>
<path d="M57.90 237.38 A7.9 7.9 0 0 1 60.94 230.87" fill="none" stroke="#b0b0b0" stroke-width="5.2"/>
<g transform="translate(55.5 283.5) rotate(45)" fill="#fff">
  <path d="M-1.3 0.5 L1.3 0.5 L2.8 -5 L-2.8 -5 Z"/>
  <rect x="-2.9" y="-17" width="5.8" height="13" rx="1"/>
  <rect x="-4.8" y="-19.2" width="9.6" height="2.4" rx="0.8"/>
  <rect x="-3.9" y="-28.5" width="7.8" height="10" rx="3.9"/>
</g>
<path d="M57 312 L66 303.5 L75 312" stroke="#444" stroke-width="1.2" fill="none"/>
<rect x="50" y="329" width="32" height="31" fill="#fff"/>
<rect x="50" y="365" width="32" height="31" fill="#dcdcdc"/>
<rect x="50" y="400" width="32" height="31" fill="#bdbdbd"/>
<rect x="50" y="435" width="32" height="31" fill="#9e9e9e"/>
<rect x="50" y="470" width="32" height="32" fill="#7f7f7f"/>
<rect x="50" y="505" width="32" height="32" fill="#5f5f5f"/>
<rect x="50" y="540.5" width="32" height="31.5" fill="#3e3e3e"/>
<rect x="50" y="576" width="32" height="31" fill="#222"/>
<rect x="50.5" y="611.5" width="31" height="30" fill="#000" stroke="#2c2c2c" stroke-width="1"/>
<path d="M56 661.5 L66 670.5 L76 661.5" stroke="#fff" stroke-width="1.2" fill="none"/>

<!-- col3 -->
<rect x="92" y="217" width="2.2" height="35" fill="#3bdc1c"/>
<rect x="92" y="254" width="2.2" height="36" fill="#2adc2a"/>
<rect x="92" y="291.5" width="2.2" height="35.5" fill="#18dc48"/>
<rect x="92" y="328.5" width="2.2" height="34.5" fill="#08d878"/>
<rect x="92" y="365" width="2.2" height="35" fill="#00d2a8"/>
<rect x="92" y="401.5" width="2.2" height="35.5" fill="#00cad0"/>
<rect x="92" y="439.5" width="2.2" height="41.5" fill="#00b8e8"/>
<rect x="92" y="483" width="2.2" height="52" fill="#0090f0"/>
<circle cx="93" cy="536.5" r="1.3" fill="#0060d0"/>
<g fill="#fff">
  <circle cx="110" cy="235" r="1.1"/>
  <circle cx="110" cy="272" r="1.5"/>
  <circle cx="110" cy="309" r="2.1"/>
  <circle cx="110" cy="345.5" r="2.8"/>
  <circle cx="110" cy="383" r="3.6"/>
  <circle cx="110" cy="420" r="4.7"/>
  <circle cx="110" cy="460.5" r="6.3"/>
  <circle cx="110" cy="509" r="9.5"/>
</g>
<g fill="#cfcfcf" font-size="9.3" text-anchor="middle" font-family="Liberation Sans, sans-serif">
  <text x="110" y="250">1.13</text>
  <text x="110" y="286.5">1.60</text>
  <text x="110" y="324">2.26</text>
  <text x="110" y="360.5">3.20</text>
  <text x="110" y="398">4.53</text>
  <text x="110" y="435.5">6.40</text>
  <text x="110" y="479.5">9.05</text>
  <text x="110" y="532.5">12.80</text>
</g>
<rect x="108.5" y="559" width="3" height="32" rx="1.5" fill="#555"/>
<rect x="108.5" y="591" width="3" height="49" rx="1.5" fill="#f3c73e"/>
<circle cx="110" cy="591" r="5.5" fill="#fff"/>
<circle cx="100.3" cy="665.5" r="3.1" fill="#fff"/>
<circle cx="110" cy="665.5" r="3.1" fill="#fff"/>
<circle cx="119.5" cy="665.5" r="3.1" fill="#fff"/>


<!-- ===== RIGHT LAYERS PANEL ===== -->
<rect x="1094" y="204" width="106" height="492" fill="#000"/>
<rect x="1100" y="220" width="21" height="3" rx="1.5" fill="#555"/>
<path d="M1183 213.5 L1176.5 221 L1183 228.5 M1193 213.5 L1186.5 221 L1193 228.5" stroke="#fff" stroke-width="2" fill="none"/>
<g fill="#3a3a3a">
  <rect x="1094" y="237" width="106" height="1.5"/>
  <rect x="1094" y="273" width="106" height="1.5"/>
  <rect x="1094" y="308" width="106" height="1.5"/>
  <rect x="1094" y="343" width="106" height="1.5"/>
  <rect x="1094" y="378" width="106" height="1.5"/>
</g>
<!-- new page -->
<g fill="none" stroke="#fff" stroke-width="1.3">
  <path d="M1135.5 247.5 H1150.5 L1155.5 252.5 V261.5 M1135.5 247.5 V262.5 H1150"/>
  <path d="M1155 260.5 V268 M1151.5 264.5 H1158.5"/>
  <rect x="1135.5" y="283" width="20" height="14.5"/>
  <path d="M1155 295.5 V303 M1151.5 299.5 H1158.5"/>
  <path d="M1138 318 V334 M1155 318 V325 M1138 318 H1155"/>
  <path d="M1155 328 V335 M1151.5 331.5 H1158.5"/>
  <path d="M1157 362 V370 M1153 366 H1161"/>
</g>
<path d="M1150 250 H1152.5 L1155.5 253 V255 H1150 Z" fill="#fff"/>
<circle cx="1140" cy="287" r="1.8" fill="#fff"/>
<path d="M1138 295.5 L1143 290.5 L1145 292.5 L1148 288.5 L1153.5 295.5 Z" fill="#fff"/>
<circle cx="1138" cy="318" r="2" fill="#fff"/>
<circle cx="1155" cy="318" r="2" fill="#fff"/>
<path d="M1139.5 356.5 V352.5 H1155 V356.5 M1147.2 352.5 V367.5 M1143 367.5 H1151.5" fill="none" stroke="#fff" stroke-width="2"/>

<!-- layer rows -->
<rect x="1126" y="380" width="74" height="62" fill="#fff"/>
<rect x="1126" y="443.5" width="74" height="62" fill="#fafafa"/>
<rect x="1126" y="506.5" width="74" height="62" fill="#fafafa"/>
<rect x="1126" y="571" width="74" height="62" fill="#fdfdfd"/>
<rect x="1126" y="634" width="74" height="27" fill="#fff"/>
<g fill="#333">
  <rect x="1094" y="411.5" width="32" height="1.2"/>
  <rect x="1094" y="474.5" width="32" height="1.2"/>
  <rect x="1094" y="537.5" width="32" height="1.2"/>
  <rect x="1094" y="601.5" width="32" height="1.2"/>
</g>
<g fill="#4a4a4a">
  <rect x="1094" y="442" width="106" height="1.5"/>
  <rect x="1094" y="505" width="106" height="1.5"/>
  <rect x="1094" y="569" width="106" height="1.5"/>
  <rect x="1094" y="632.5" width="106" height="1.5"/>
</g>
<!-- thumbnails content -->
<g fill="#9ad27a" opacity="0.55">
  <rect x="1135" y="385" width="8" height="1.2"/>
  <rect x="1158" y="405" width="8" height="1.2"/>
  <rect x="1175" y="424" width="8" height="1.2"/>
  <rect x="1138" y="435.5" width="11" height="1.2"/>
</g>
<rect x="1142" y="447" width="42" height="54" fill="#fff" stroke="#eee" stroke-width="0.6"/>
<circle cx="1154.5" cy="462.5" r="3.5" fill="#74a040"/>
<circle cx="1163" cy="460" r="2" fill="#74a040"/>
<circle cx="1172.5" cy="490.5" r="4" fill="#74a040"/>
<rect x="1135" y="511" width="56" height="53" fill="#fff" stroke="#eee" stroke-width="0.6"/>
<g fill="#111">
  <circle cx="1142.5" cy="526.5" r="1.6"/><circle cx="1171" cy="526.5" r="1.6"/><circle cx="1183.5" cy="526.5" r="1.6"/>
  <circle cx="1142.5" cy="555" r="1.6"/><circle cx="1171" cy="555" r="1.6"/><circle cx="1183.5" cy="555" r="1.6"/>
</g>
<path d="M1171 518 V530 M1146 530 V536 M1183 536 v3" stroke="#999" stroke-width="0.6"/>
<g fill="none" stroke="#bbb" stroke-width="0.7">
  <path d="M1136 582 V622 M1135 582 H1138 M1190 582 V622 M1188 582 H1192 M1139 622 h2 M1155 622 h2 M1172 622 h2 M1180 622 h2"/>
</g>
<g fill="#fff">
  <path d="M1101 396 Q1110 385 1119.5 396 Q1110 407 1101 396 Z"/>
  <circle cx="1101.8" cy="428" r="2.8"/><circle cx="1110.5" cy="428" r="2.8"/><circle cx="1119" cy="428" r="2.8"/>
  <path d="M1101 459.5 Q1110 448.5 1119.5 459.5 Q1110 470.5 1101 459.5 Z"/>
  <circle cx="1101.8" cy="491" r="2.8"/><circle cx="1110.5" cy="491" r="2.8"/><circle cx="1119" cy="491" r="2.8"/>
  <path d="M1101 523 Q1110 512 1119.5 523 Q1110 534 1101 523 Z"/>
  <circle cx="1101.8" cy="554" r="2.8"/><circle cx="1110.5" cy="554" r="2.8"/><circle cx="1119" cy="554" r="2.8"/>
  <path d="M1101 587 Q1110 576 1119.5 587 Q1110 598 1101 587 Z"/>
  <circle cx="1101.8" cy="618" r="2.8"/><circle cx="1110.5" cy="618" r="2.8"/><circle cx="1119" cy="618" r="2.8"/>
  <path d="M1101 650 Q1110 639 1119.5 650 Q1110 661 1101 650 Z"/>
</g>
<g fill="#000">
  <circle cx="1110.5" cy="396" r="3.6"/>
  <circle cx="1110.5" cy="459.5" r="3.6"/>
  <circle cx="1110.5" cy="523" r="3.6"/>
  <circle cx="1110.5" cy="587" r="3.6"/>
  <circle cx="1110.5" cy="650" r="3.6"/>
</g>
<g fill="#fff">
  <circle cx="1109.6" cy="395.1" r="1.4"/>
  <circle cx="1109.6" cy="458.6" r="1.4"/>
  <circle cx="1109.6" cy="522.1" r="1.4"/>
  <circle cx="1109.6" cy="586.1" r="1.4"/>
  <circle cx="1109.6" cy="649.1" r="1.4"/>
</g>

<!-- ===== TEXT ACTIONS POPOVER ===== -->
<path d="M1074 420 L1085 428.5 L1074 437 Z" fill="#000"/>
<path d="M861 288 H1065 Q1074 288 1074 297 V559 Q1074 568 1065 568 H861 Q852 568 852 559 V297 Q852 288 861 288 Z" fill="#000"/>
<path d="M861 288 H1065 Q1074 288 1074 297 V333 H852 V297 Q852 288 861 288 Z" fill="#4b4b4b"/>
<text x="963.5" y="315.5" font-size="15" font-weight="bold" text-anchor="middle" fill="#f2f2f2" font-family="Liberation Sans, sans-serif">Text Actions</text>
<g fill="#3a3a3a">
  <rect x="852" y="375" width="222" height="1.2"/>
  <rect x="852" y="418.5" width="222" height="1.2"/>
  <rect x="852" y="492.5" width="222" height="1.2"/>
  <rect x="925" y="419" width="1.2" height="149"/>
  <rect x="999" y="419" width="1.2" height="149"/>
</g>
<text x="868.5" y="359.5" font-size="14.5" fill="#e6e6e6" font-family="Liberation Sans, sans-serif">Labels</text>
<text x="1065" y="358" font-size="9.3" text-anchor="end" fill="#8c8c8c" font-family="Liberation Sans, sans-serif">Layer Title</text>
<text x="1065" y="401.5" font-size="9.3" text-anchor="end" fill="#8c8c8c" font-family="Liberation Sans, sans-serif">Text Opacity</text>
<rect x="868" y="396.5" width="103" height="3.5" rx="1.75" fill="#fff"/>
<circle cx="970.5" cy="398.2" r="5.3" fill="#fff"/>
<g fill="none" stroke="#fff" stroke-width="1.4">
  <path d="M880 446.5 V443 H898 V446.5 M889 443 V462.5 M885 462.5 H893"/>
  <path d="M954 446.5 V443 H972 V446.5 M963 443 V462.5 M959 462.5 H967"/>
</g>
<g font-size="9.3" fill="#f0f0f0" text-anchor="middle" font-family="Liberation Sans, sans-serif">
  <text x="889" y="477">Add</text>
  <text x="889" y="487">Text</text>
  <text x="963" y="477">Edit</text>
  <text x="963" y="487">Text</text>
  <text x="1037" y="482">Copy</text>
  <text x="889" y="556">Duplicate</text>
  <text x="963" y="556">Delete</text>
</g>
<g fill="none" stroke-width="1.1">
  <rect x="1025.5" y="437.5" width="19" height="18.5" stroke="#777"/>
  <rect x="1030.5" y="442.5" width="19" height="19" stroke="#ddd"/>
  <rect x="877.5" y="511.5" width="19" height="18.5" stroke="#ddd"/>
  <rect x="882.5" y="516.5" width="19" height="19" stroke="#ddd"/>
</g>
<g fill="none" stroke="#ddd" stroke-width="1.1">
  <path d="M952 515.5 H975 M959 515.5 V513 H967 V515.5"/>
  <path d="M954 518 L956.5 540 H970 L972.5 518"/>
  <path d="M959 520 V537 M963.2 520 V537 M967.5 520 V537"/>
</g>

</svg>
</body></html>
